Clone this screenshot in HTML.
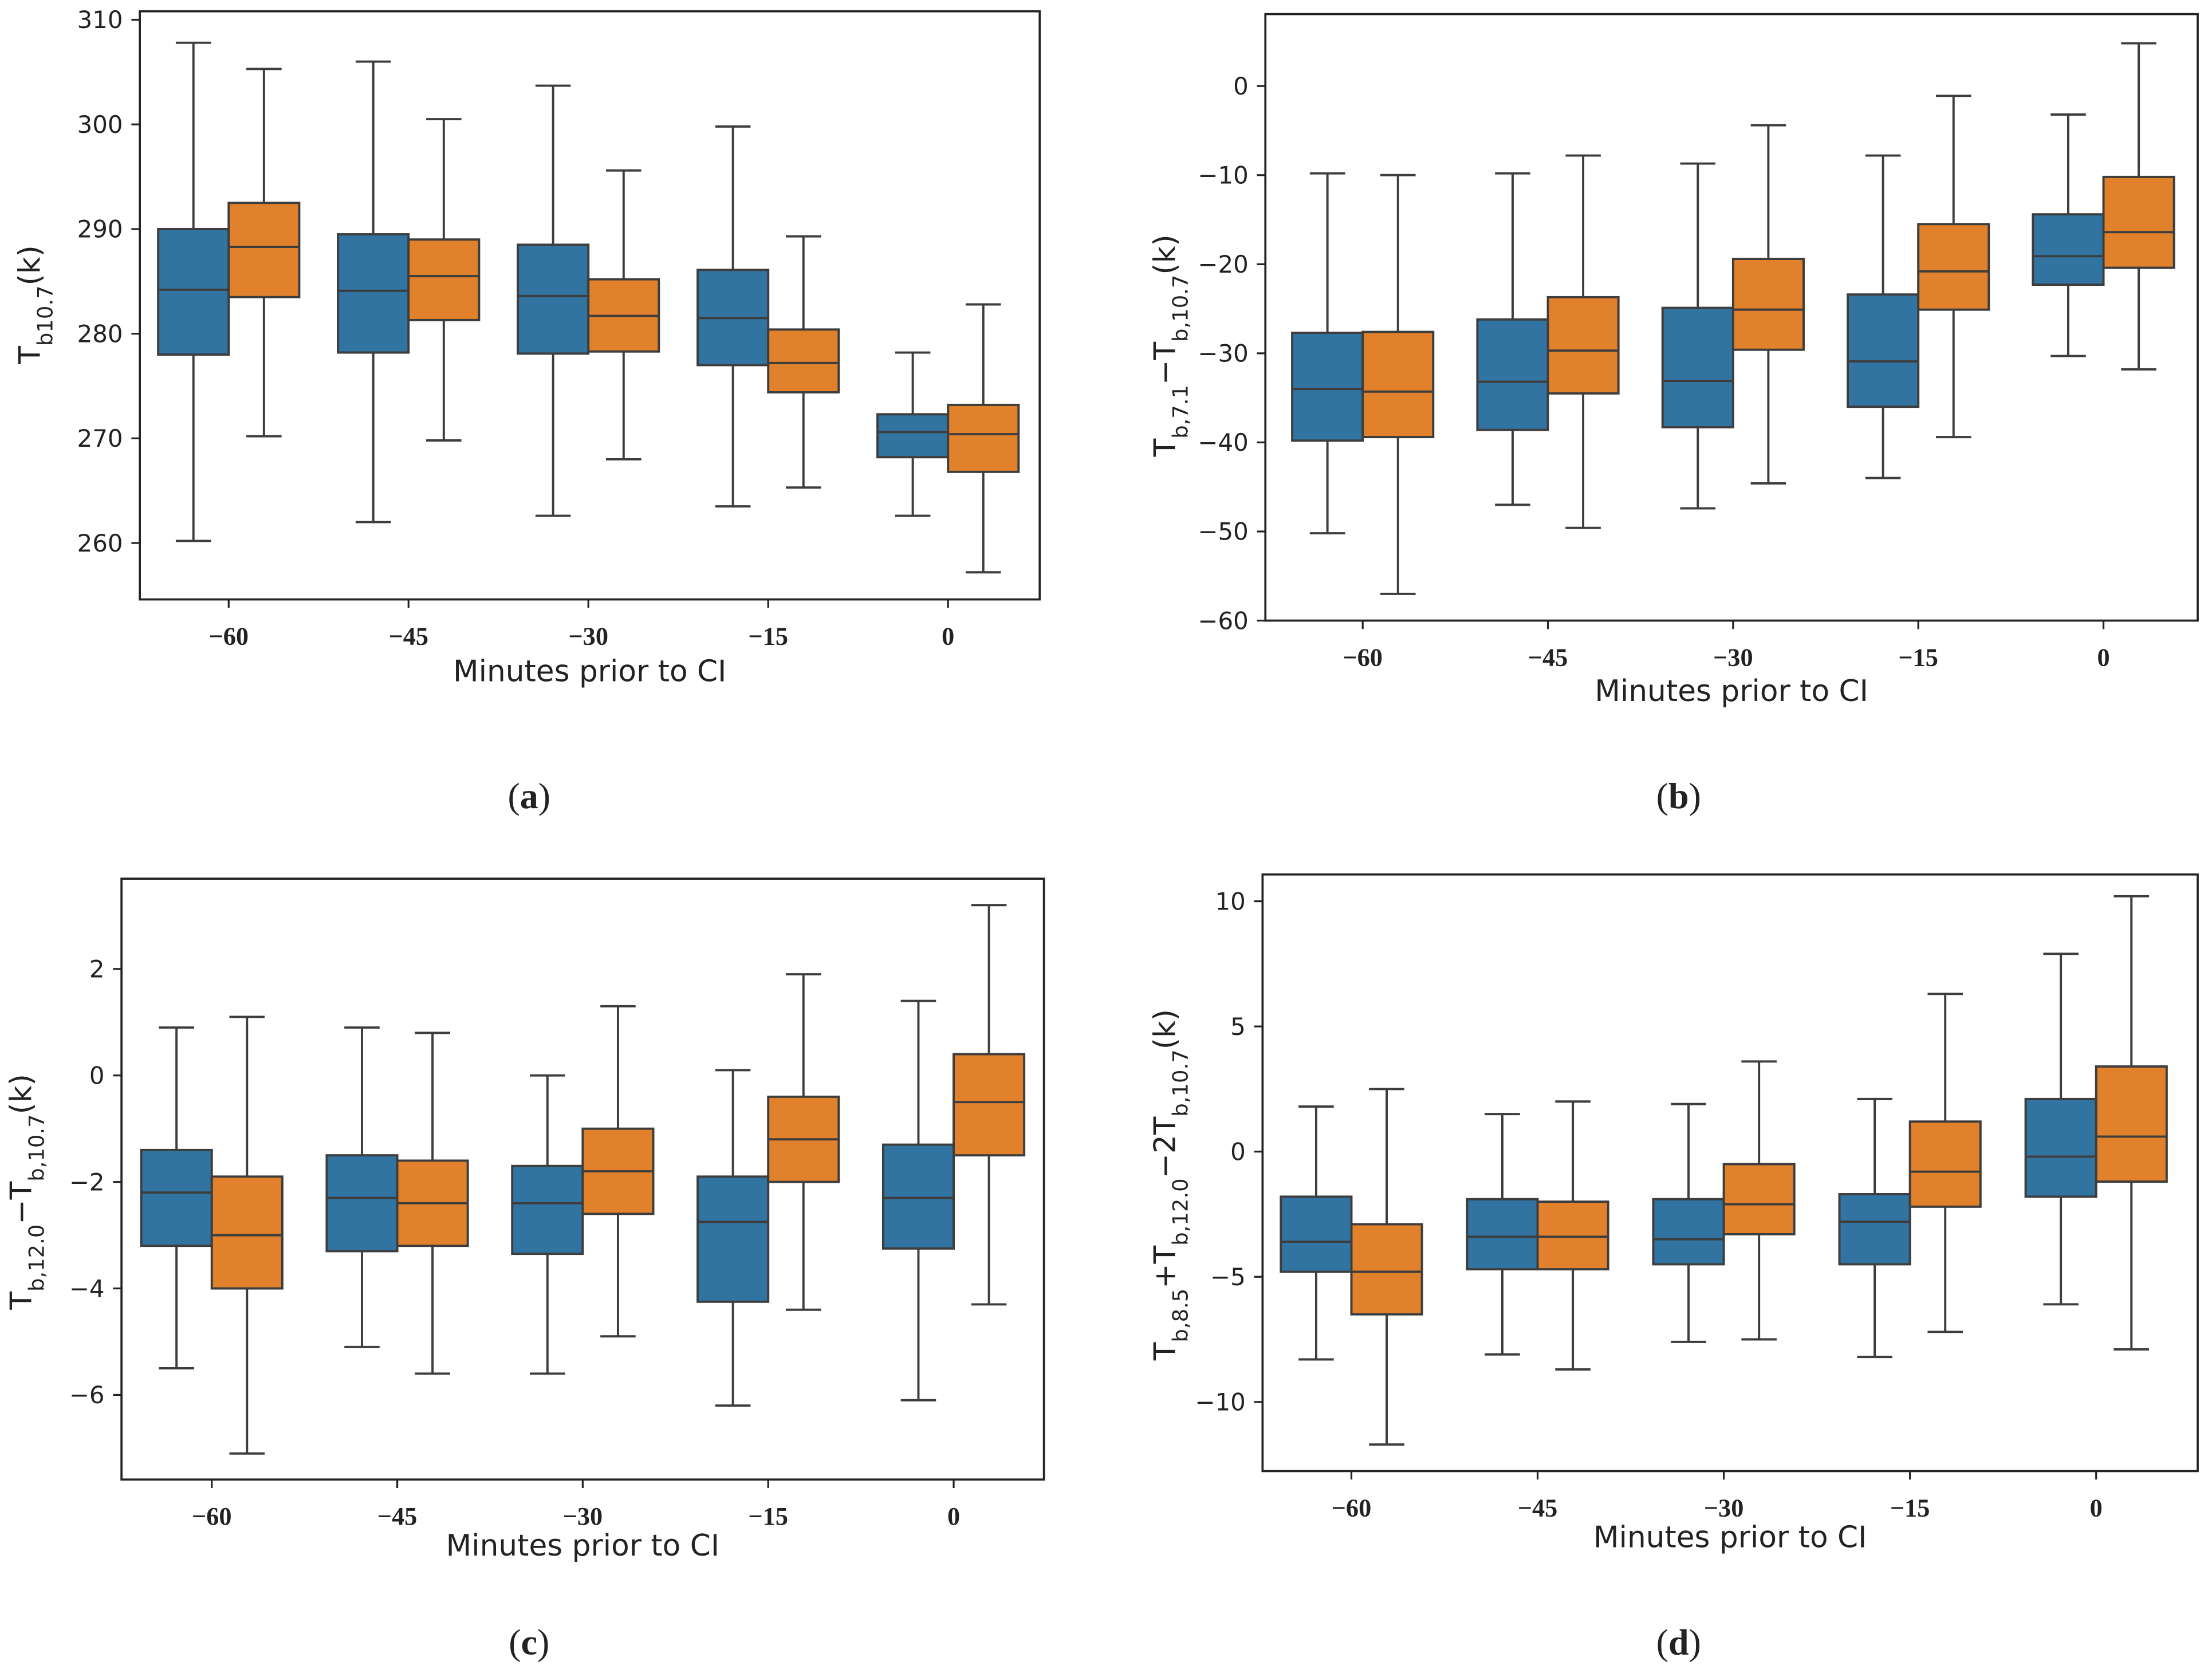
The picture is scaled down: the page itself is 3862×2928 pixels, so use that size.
<!DOCTYPE html>
<html><head><meta charset="utf-8"><style>
html,body{margin:0;padding:0;background:#fff;}
svg{display:block;}
text{font-family:"DejaVu Sans","Liberation Sans",sans-serif;fill:#222;}
.tk{font-size:17px;}
.xt{font-family:"Liberation Serif",serif;font-weight:bold;font-size:18px;}
.lab{font-size:21px;}
.cap{font-family:"Liberation Serif",serif;font-size:26px;}
</style></head><body>
<svg id="fig" width="3862" height="2928" viewBox="0 0 1568 1189" xmlns="http://www.w3.org/2000/svg"></svg>
<script>
const categories = ["\u221260","\u221245","\u221230","\u221215","0"];
// each entry: [low whisker, q1, median, q3, high whisker]
const aBlue = [[260.2,278,284.2,290,307.8],[262,278.2,284.1,289.5,306],[262.6,278.1,283.6,288.5,303.7],[263.5,277,281.5,286.1,299.8],[262.6,268.2,270.6,272.3,278.2]];
const aOrange = [[270.2,283.5,288.3,292.5,305.3],[269.8,281.3,285.5,289,300.5],[268,278.3,281.7,285.2,295.6],[265.3,274.4,277.2,280.4,289.3],[257.2,266.8,270.4,273.2,282.8]];
const bBlue = [[-50.2,-39.8,-34,-27.7,-9.8],[-47,-38.6,-33.2,-26.2,-9.8],[-47.4,-38.3,-33.1,-24.9,-8.7],[-44,-36,-30.9,-23.4,-7.8],[-30.3,-22.3,-19.1,-14.4,-3.2]];
const bOrange = [[-57,-39.4,-34.3,-27.6,-10],[-49.6,-34.5,-29.7,-23.7,-7.8],[-44.6,-29.6,-25.1,-19.4,-4.4],[-39.4,-25.1,-20.8,-15.5,-1.1],[-31.8,-20.4,-16.4,-10.2,4.8]];
const cBlue = [[-5.5,-3.2,-2.2,-1.4,0.9],[-5.1,-3.3,-2.3,-1.5,0.9],[-5.6,-3.35,-2.4,-1.7,0],[-6.2,-4.25,-2.75,-1.9,0.1],[-6.1,-3.25,-2.3,-1.3,1.4]];
const cOrange = [[-7.1,-4,-3,-1.9,1.1],[-5.6,-3.2,-2.4,-1.6,0.8],[-4.9,-2.6,-1.8,-1.0,1.3],[-4.4,-2.0,-1.2,-0.4,1.9],[-4.3,-1.5,-0.5,0.4,3.2]];
const dBlue = [[-8.3,-4.8,-3.6,-1.8,1.8],[-8.1,-4.7,-3.4,-1.9,1.5],[-7.6,-4.5,-3.5,-1.9,1.9],[-8.2,-4.5,-2.8,-1.7,2.1],[-6.1,-1.8,-0.2,2.1,7.9]];
const dOrange = [[-11.7,-6.5,-4.8,-2.9,2.5],[-8.7,-4.7,-3.4,-2.0,2.0],[-7.5,-3.3,-2.1,-0.5,3.6],[-7.2,-2.2,-0.8,1.2,6.3],[-7.9,-1.2,0.6,3.4,10.2]];
const aTicks = [260,270,280,290,300,310];
const bTicks = [-60,-50,-40,-30,-20,-10,0];
const cTicks = [-6,-4,-2,0,2];
const dTicks = [-10,-5,0,5,10];

const NS="http://www.w3.org/2000/svg";
const svg=document.getElementById('fig');
function mk(tag,attrs,parent){const e=document.createElementNS(NS,tag);for(const k in attrs)e.setAttribute(k,attrs[k]);(parent||svg).appendChild(e);return e;}

const panels=[
 {id:'a',x0:99,x1:737,y0:8,y1:425,v0:310,p0:14,v1:260,p1:385,c0:162,dc:127.5,ticks:aTicks,blue:aBlue,orange:aOrange,xl:483,cap:565,capx:375,ylab:'T<tspan baseline-shift="sub" font-size="15">b10.7</tspan>(k)',ylx:28,yly:216},
 {id:'b',x0:897,x1:1558,y0:10,y1:440,v0:0,p0:61,v1:-60,p1:440,c0:966,dc:131.3,ticks:bTicks,blue:bBlue,orange:bOrange,xl:497,cap:565,capx:1190,ylab:'T<tspan baseline-shift="sub" font-size="15">b,7.1</tspan>\u2212T<tspan baseline-shift="sub" font-size="15">b,10.7</tspan>(k)',ylx:833,yly:245},
 {id:'c',x0:86,x1:740,y0:623,y1:1049,v0:2,p0:687,v1:-6,p1:989,c0:150,dc:131.5,ticks:cTicks,blue:cBlue,orange:cOrange,xl:1103,cap:1165,capx:375,ylab:'T<tspan baseline-shift="sub" font-size="15">b,12.0</tspan>\u2212T<tspan baseline-shift="sub" font-size="15">b,10.7</tspan>(k)',ylx:22,yly:845},
 {id:'d',x0:895,x1:1558,y0:620,y1:1043,v0:10,p0:639,v1:-10,p1:994,c0:958,dc:132,ticks:dTicks,blue:dBlue,orange:dOrange,xl:1097,cap:1165,capx:1190,ylab:'T<tspan baseline-shift="sub" font-size="15">b,8.5</tspan>+T<tspan baseline-shift="sub" font-size="15">b,12.0</tspan>\u22122T<tspan baseline-shift="sub" font-size="15">b,10.7</tspan>(k)',ylx:833,yly:840}
];

panels.forEach(P=>{
  const g=mk('g',{});
  
  
  const y=v=>P.p0+(v-P.v0)*(P.p1-P.p0)/(P.v1-P.v0);
  const xc=i=>P.c0+i*P.dc;
  const bw=50;
  function box(d,xL,col,name){
    const bg=mk('g',{},g);
    
    
    const cx=xL+bw/2;
    mk('line',{x1:cx,x2:cx,y1:y(d[0]),y2:y(d[1]),stroke:'#3d3d3d','stroke-width':1.6},bg);
    mk('line',{x1:cx,x2:cx,y1:y(d[3]),y2:y(d[4]),stroke:'#3d3d3d','stroke-width':1.6},bg);
    mk('line',{x1:cx-12.5,x2:cx+12.5,y1:y(d[0]),y2:y(d[0]),stroke:'#3d3d3d','stroke-width':1.6},bg);
    mk('line',{x1:cx-12.5,x2:cx+12.5,y1:y(d[4]),y2:y(d[4]),stroke:'#3d3d3d','stroke-width':1.6},bg);
    mk('rect',{x:xL,y:y(d[3]),width:bw,height:y(d[1])-y(d[3]),fill:col,stroke:'#3d3d3d','stroke-width':1.6},bg);
    mk('line',{x1:xL,x2:xL+bw,y1:y(d[2]),y2:y(d[2]),stroke:'#3d3d3d','stroke-width':1.6},bg);
  }
  P.blue.forEach((d,i)=>box(d,xc(i)-bw,'#3274a1','box-blue-'+i));
  P.orange.forEach((d,i)=>box(d,xc(i),'#e1812c','box-orange-'+i));
  const fr=mk('rect',{x:P.x0,y:P.y0,width:P.x1-P.x0,height:P.y1-P.y0,fill:'none',stroke:'#222','stroke-width':1.5},g);
  
  
  P.ticks.forEach(t=>{
    mk('line',{x1:P.x0-6,x2:P.x0,y1:y(t),y2:y(t),stroke:'#222','stroke-width':1.3},g);
    const tx=mk('text',{x:P.x0-12,y:y(t)+6,'text-anchor':'end',class:'tk'},g);
    
    
    tx.textContent=t<0?'\u2212'+Math.abs(t):String(t);
  });
  categories.forEach((c,i)=>{
    mk('line',{x1:xc(i),x2:xc(i),y1:P.y1,y2:P.y1+6,stroke:'#222','stroke-width':1.3},g);
    const tx=mk('text',{x:xc(i),y:P.y1+32,'text-anchor':'middle',class:'xt'},g);
    
    
    tx.textContent=c;
  });
  const xl=mk('text',{x:(P.x0+P.x1)/2,y:P.xl,'text-anchor':'middle',class:'lab'},g);
  
  
  xl.textContent='Minutes prior to CI';
  const yl=mk('text',{x:0,y:0,'text-anchor':'middle',class:'lab',transform:`translate(${P.ylx},${P.yly}) rotate(-90)`},g);
  
  
  yl.innerHTML=P.ylab;
  const cp=mk('text',{x:P.capx,y:P.cap+8,'text-anchor':'middle',class:'cap'},g);
  
  
  cp.innerHTML='(<tspan font-weight="bold">'+P.id+'</tspan>)';
});
</script>
</body></html>
